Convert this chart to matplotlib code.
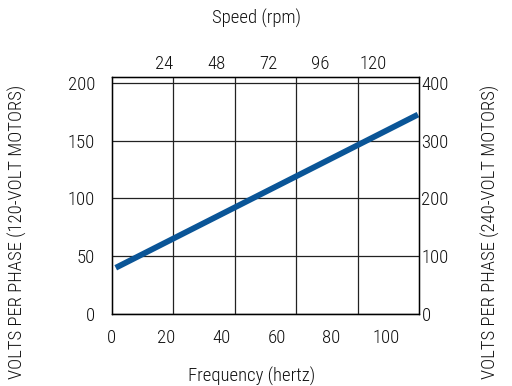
import numpy as np
import matplotlib
matplotlib.use('Agg')
import matplotlib.pyplot as plt

plt.rcParams['font.family'] = ['Roboto Condensed', 'Roboto', 'DejaVu Sans']
plt.rcParams['font.weight'] = 'light'

# data
freq_ticks = [0, 20, 40, 60, 80, 100]
rpm_ticks = [24, 48, 72, 96, 120]
volt120_ticks = [0, 50, 100, 150, 200]
volt240_ticks = [0, 100, 200, 300, 400]
line_freq = [1.5, 111.5]
line_volts = [40, 172.5]

text_color = '#111111'
line_color = '#0a5597'

fig = plt.figure(figsize=(5.12, 3.86), dpi=100)
ax = fig.add_axes([0.218, 0.1865, 0.601, 0.614])

ax.set_xlim(0, 112)
ax.set_ylim(0, 205)
ax.set_xticks(freq_ticks)
ax.set_yticks(volt120_ticks)
ax.tick_params(length=0, labelsize=13.5, labelcolor=text_color)
ax.tick_params(axis='x', pad=11)
ax.tick_params(axis='y', pad=12)

# grid: the box is split into equal columns, rows follow the 50 V ticks
x0, x1 = ax.get_xlim()
ax.set_xticks(np.linspace(x0, x1, 6)[1:-1], minor=True)
ax.tick_params(which='minor', length=0)
ax.grid(True, which='minor', axis='x', color='#222222', lw=0.9)
ax.grid(True, which='major', axis='y', color='#222222', lw=0.9)

ax.plot(line_freq, line_volts, color=line_color, lw=4.2, solid_capstyle='butt', zorder=3)

for s in ax.spines.values():
    s.set_color('#222222')
    s.set_linewidth(1.0)

top = ax.twiny()
top.set_xlim(0, 141.3)
top.set_xticks(rpm_ticks)
top.tick_params(length=0, labelsize=13.5, labelcolor=text_color, pad=3)

right = ax.twinx()
right.set_ylim(0, 410)
right.set_yticks(volt240_ticks)
right.tick_params(length=0, labelsize=13.5, labelcolor=text_color, pad=1.5)

fig.text(0.5015, 0.953, 'Speed (rpm)', ha='center', va='center', fontsize=13.4, color=text_color)
fig.text(0.492, 0.024, 'Frequency (hertz)', ha='center', va='center', fontsize=13.4, color=text_color)
fig.text(0.035, 0.40, 'VOLTS PER PHASE (120-VOLT MOTORS)', rotation=90, ha='center', va='center',
         fontsize=13.4, color=text_color)
fig.text(0.957, 0.40, 'VOLTS PER PHASE (240-VOLT MOTORS)', rotation=90, ha='center', va='center',
         fontsize=13.4, color=text_color)

fig.savefig('out.png', dpi=100)
